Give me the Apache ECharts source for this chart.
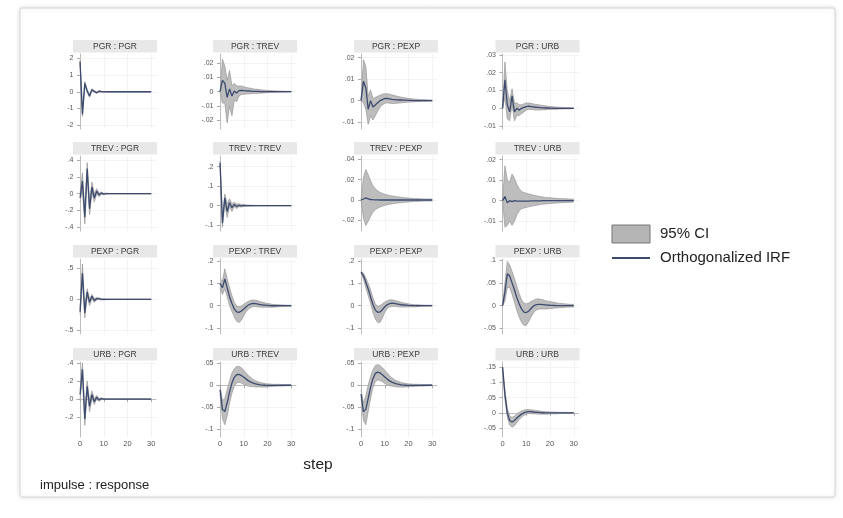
<!DOCTYPE html>
<html><head><meta charset="utf-8">
<script src="https://cdn.jsdelivr.net/npm/echarts@6/dist/echarts.min.js"></script>
<style>html,body{margin:0;padding:0;background:#fff}#c{width:843px;height:518px}</style>
</head><body><div id="c"></div>
<script>
// ---------------- DATA ----------------
const steps = [0,1,2,3,4,5,6,7,8,9,10,11,12,13,14,15,16,17,18,19,20,21,22,23,24,25,26,27,28,29,30];
const vars = ['PGR','TREV','PEXP','URB'];
const xTicks = [0,10,20,30];
const legendNames = ['95% CI', 'Orthogonalized IRF'];

// impulse PGR
const irf_PGR_PGR = [1.8,-1.35,0.5,0.05,-0.25,0.12,0.02,-0.06,0.03,0.01, -0.01,0.01,0,0,0,0,0,0,0,0, 0,0,0,0,0,0,0,0,0,0, 0];
const hi_PGR_PGR  = [1.9,-1.22,0.62,0.13,-0.17,0.18,0.07,-0.02,0.06,0.03, 0.01,0.02,0.01,0.008,0.006,0.005,0.004,0.003,0.003,0.002, 0.002,0.002,0.001,0.001,0.001,0.001,0.001,0.001,0.001,0.001, 0.001];
const lo_PGR_PGR  = [1.7,-1.48,0.38,-0.03,-0.33,0.06,-0.03,-0.1,0.0,-0.01, -0.03,0.0,-0.01,-0.008,-0.006,-0.005,-0.004,-0.003,-0.003,-0.002, -0.002,-0.002,-0.001,-0.001,-0.001,-0.001,-0.001,-0.001,-0.001,-0.001, -0.001];

const irf_PGR_TREV = [0,0.008,0.006,-0.004,0.002,-0.003,0.0005,-0.001,0.0008,0.001, 0.0008,0.0006,0.0005,0.0004,0.0003,0.0002,0.0002,0.0001,0.0001,0.0001, 0,0,0,0,0,0,0,0,0,0, 0];
const hi_PGR_TREV  = [0,0.023,0.018,0.008,0.015,0.004,0.006,0.004,0.004,0.004, 0.0035,0.003,0.0027,0.0024,0.002,0.0018,0.0016,0.0014,0.0012,0.001, 0.0009,0.0008,0.0007,0.0006,0.0005,0.0005,0.0004,0.0004,0.0003,0.0003, 0.0003];
const lo_PGR_TREV  = [0,-0.008,-0.008,-0.022,-0.01,-0.017,-0.006,-0.007,-0.003,-0.002, -0.0018,-0.0016,-0.0015,-0.0014,-0.0013,-0.0012,-0.0011,-0.001,-0.0009,-0.0008, -0.0007,-0.0006,-0.0005,-0.0005,-0.0004,-0.0004,-0.0003,-0.0003,-0.0003,-0.0002, -0.0002];

const irf_PGR_PEXP = [0,0.009,0.006,-0.004,0,-0.003,-0.002,-0.001,0,0.0005, 0.001,0.001,0.0008,0.0006,0.0005,0.0004,0.0003,0.0003,0.0002,0.0002, 0.0001,0.0001,0,0,0,0,0,0,0,0, 0];
const hi_PGR_PEXP  = [0,0.019,0.016,0.002,0.005,0.001,0.0015,0.002,0.0025,0.003, 0.0032,0.0032,0.003,0.0027,0.0024,0.0021,0.0018,0.0016,0.0014,0.0012, 0.001,0.0009,0.0008,0.0007,0.0006,0.0005,0.0005,0.0004,0.0004,0.0003, 0.0003];
const lo_PGR_PEXP  = [0,-0.001,-0.004,-0.011,-0.007,-0.009,-0.007,-0.005,-0.003,-0.002, -0.0012,-0.001,-0.0012,-0.0013,-0.0013,-0.0012,-0.0011,-0.001,-0.0009,-0.0008, -0.0007,-0.0006,-0.0005,-0.0005,-0.0004,-0.0004,-0.0003,-0.0003,-0.0003,-0.0002, -0.0002];

const irf_PGR_URB = [0,0.016,0.002,-0.002,0.007,-0.002,0,-0.001,0,0.0005, 0.001,0.0012,0.001,0.0008,0.0006,0.0005,0.0004,0.0003,0.0002,0.0002, 0.0001,0.0001,0,0,0,0,0,0,0,0, 0];
const hi_PGR_URB  = [0,0.026,0.01,0.004,0.011,0.003,0.003,0.002,0.002,0.0025, 0.003,0.003,0.0028,0.0025,0.0022,0.002,0.0018,0.0016,0.0014,0.0012, 0.001,0.0009,0.0008,0.0007,0.0006,0.0005,0.0005,0.0004,0.0004,0.0003, 0.0003];
const lo_PGR_URB  = [0,0.006,-0.006,-0.007,0.002,-0.007,-0.004,-0.004,-0.003,-0.002, -0.001,-0.0006,-0.0006,-0.0008,-0.0009,-0.0009,-0.0009,-0.0008,-0.0008,-0.0007, -0.0006,-0.0006,-0.0005,-0.0005,-0.0004,-0.0004,-0.0003,-0.0003,-0.0003,-0.0002, -0.0002];

// impulse TREV
const irf_TREV_PGR = [-0.05,0.15,-0.28,0.3,-0.18,0.08,-0.05,0.03,-0.015,0.008, -0.004,0.002,0,0,0,0,0,0,0,0, 0,0,0,0,0,0,0,0,0,0, 0];
const hi_TREV_PGR  = [0,0.25,-0.2,0.37,-0.1,0.14,0,0.06,0.005,0.02, 0.004,0.007,0.003,0.002,0.0015,0.001,0.001,0.001,0.001,0.001, 0.001,0.001,0.001,0.001,0.001,0.001,0.001,0.001,0.001,0.001, 0.001];
const lo_TREV_PGR  = [-0.1,0.05,-0.36,0.22,-0.25,0.02,-0.1,0,-0.035,-0.005, -0.012,-0.003,-0.003,-0.002,-0.0015,-0.001,-0.001,-0.001,-0.001,-0.001, -0.001,-0.001,-0.001,-0.001,-0.001,-0.001,-0.001,-0.001,-0.001,-0.001, -0.001];

const irf_TREV_TREV = [0.22,-0.09,0.04,-0.03,0.015,-0.01,0.006,-0.004,0.002,-0.001, 0.001,0,0,0,0,0,0,0,0,0, 0,0,0,0,0,0,0,0,0,0, 0];
const hi_TREV_TREV  = [0.23,-0.06,0.06,0.01,0.035,0.01,0.018,0.008,0.01,0.005, 0.006,0.003,0.003,0.002,0.002,0.0015,0.001,0.001,0.001,0.001, 0.001,0.001,0.001,0.001,0.001,0.001,0.001,0.001,0.001,0.001, 0.001];
const lo_TREV_TREV  = [0.21,-0.11,0.01,-0.06,-0.005,-0.03,-0.005,-0.015,-0.005,-0.007, -0.004,-0.003,-0.003,-0.002,-0.002,-0.0015,-0.001,-0.001,-0.001,-0.001, -0.001,-0.001,-0.001,-0.001,-0.001,-0.001,-0.001,-0.001,-0.001,-0.001, -0.001];

const irf_TREV_PEXP = [0,0.001,0.002,0.001,0.0005,0.0003,0.0002,0.0001,0,0, 0,0,0,0,0,0,0,0,0,0, 0,0,0,0,0,0,0,0,0,0, 0];
const hi_TREV_PEXP  = [0,0.022,0.03,0.025,0.019,0.014,0.011,0.009,0.0075,0.0065, 0.0057,0.005,0.0045,0.004,0.0036,0.0032,0.0029,0.0026,0.0023,0.0021, 0.0019,0.0017,0.0015,0.0014,0.0013,0.0012,0.0011,0.001,0.001,0.0009, 0.0009];
const lo_TREV_PEXP  = [0,-0.018,-0.025,-0.021,-0.016,-0.012,-0.0095,-0.008,-0.0068,-0.006, -0.0053,-0.0047,-0.0042,-0.0038,-0.0034,-0.0031,-0.0028,-0.0025,-0.0023,-0.0021, -0.0019,-0.0017,-0.0015,-0.0014,-0.0013,-0.0012,-0.0011,-0.001,-0.001,-0.0009, -0.0009];

const irf_TREV_URB = [0,0.002,-0.001,0,-0.0005,0,-0.0002,-0.0002,-0.0002,-0.0002, -0.0002,-0.0002,-0.0001,-0.0001,-0.0001,-0.0001,-0.0001,0,0,0, 0,0,0,0,0,0,0,0,0,0, 0];
const hi_TREV_URB  = [0,0.017,0.01,0.009,0.013,0.011,0.008,0.006,0.0045,0.004, 0.0036,0.0033,0.003,0.0027,0.0024,0.0022,0.002,0.0018,0.0016,0.0015, 0.0014,0.0013,0.0012,0.0011,0.001,0.001,0.0009,0.0009,0.0008,0.0008, 0.0007];
const lo_TREV_URB  = [0,-0.013,-0.012,-0.01,-0.012,-0.01,-0.007,-0.005,-0.004,-0.0036, -0.0033,-0.003,-0.0027,-0.0025,-0.0023,-0.0021,-0.0019,-0.0017,-0.0016,-0.0015, -0.0014,-0.0013,-0.0012,-0.0011,-0.001,-0.001,-0.0009,-0.0009,-0.0008,-0.0008, -0.0007];

// impulse PEXP
const irf_PEXP_PGR = [-0.2,0.42,-0.22,0.12,-0.05,0.05,-0.02,0.01,0.01,0, 0,0,0,0,0,0,0,0,0,0, 0,0,0,0,0,0,0,0,0,0, 0];
const hi_PEXP_PGR  = [-0.15,0.57,-0.12,0.17,0,0.08,0.01,0.03,0.02,0.01, 0.008,0.006,0.005,0.004,0.003,0.0025,0.002,0.002,0.002,0.002, 0.002,0.002,0.002,0.002,0.002,0.002,0.002,0.002,0.002,0.002, 0.002];
const lo_PEXP_PGR  = [-0.25,0.3,-0.3,0.06,-0.1,0.01,-0.05,-0.01,-0.005,-0.01, -0.008,-0.006,-0.005,-0.004,-0.003,-0.0025,-0.002,-0.002,-0.002,-0.002, -0.002,-0.002,-0.002,-0.002,-0.002,-0.002,-0.002,-0.002,-0.002,-0.002, -0.002];

const irf_PEXP_TREV = [0.1,0.08,0.12,0.08,0.04,0.01,-0.015,-0.028,-0.03,-0.024, -0.015,-0.005,0.003,0.008,0.01,0.009,0.007,0.005,0.003,0.002, 0.001,0,-0.0005,-0.0005,-0.0005,-0.0003,-0.0002,-0.0001,0,0, 0];
const hi_PEXP_TREV  = [0.12,0.11,0.165,0.12,0.08,0.045,0.015,-0.002,-0.005,-0.002, 0.006,0.014,0.02,0.024,0.025,0.024,0.021,0.018,0.015,0.012, 0.01,0.008,0.006,0.005,0.004,0.004,0.003,0.003,0.002,0.002, 0.002];
const lo_PEXP_TREV  = [0.08,0.05,0.075,0.04,0,-0.025,-0.05,-0.07,-0.075,-0.065, -0.045,-0.027,-0.015,-0.008,-0.004,-0.004,-0.006,-0.006,-0.007,-0.007, -0.007,-0.007,-0.007,-0.006,-0.005,-0.005,-0.004,-0.004,-0.003,-0.003, -0.003];

const irf_PEXP_PEXP = [0.15,0.135,0.105,0.075,0.04,0.005,-0.02,-0.03,-0.028,-0.018, -0.005,0.004,0.009,0.011,0.01,0.008,0.006,0.004,0.003,0.002, 0.001,0.0005,0,-0.0003,-0.0004,-0.0003,-0.0002,-0.0001,0,0, 0];
const hi_PEXP_PEXP  = [0.155,0.145,0.125,0.1,0.07,0.035,0.008,-0.003,0,0.008, 0.016,0.022,0.026,0.026,0.024,0.021,0.018,0.015,0.012,0.01, 0.008,0.006,0.005,0.004,0.004,0.003,0.003,0.002,0.002,0.002, 0.002];
const lo_PEXP_PEXP  = [0.145,0.12,0.08,0.045,0.01,-0.03,-0.06,-0.075,-0.075,-0.055, -0.03,-0.013,-0.006,-0.003,-0.003,-0.004,-0.005,-0.006,-0.006,-0.006, -0.006,-0.005,-0.005,-0.005,-0.004,-0.004,-0.003,-0.003,-0.003,-0.002, -0.002];

const irf_PEXP_URB = [0,0.03,0.07,0.065,0.05,0.035,0.018,0.004,-0.007,-0.014, -0.015,-0.012,-0.006,-0.001,0.002,0.003,0.003,0.0025,0.002,0.0015, 0.001,0.0008,0.0005,0.0003,0.0002,0.0001,0,0,0,0, 0];
const hi_PEXP_URB  = [0,0.05,0.097,0.09,0.075,0.06,0.043,0.027,0.013,0.006, 0.004,0.006,0.009,0.012,0.014,0.015,0.014,0.013,0.011,0.01, 0.009,0.008,0.007,0.006,0.005,0.005,0.004,0.004,0.003,0.003, 0.003];
const lo_PEXP_URB  = [0,0.01,0.04,0.04,0.025,0.008,-0.01,-0.025,-0.036,-0.043, -0.043,-0.035,-0.025,-0.016,-0.01,-0.008,-0.007,-0.007,-0.007,-0.007, -0.006,-0.006,-0.005,-0.005,-0.004,-0.004,-0.004,-0.003,-0.003,-0.003, -0.003];

// impulse URB
const irf_URB_PGR = [0.05,0.33,-0.22,0.14,-0.08,0.05,-0.03,0.02,-0.01,0.005, 0,0,0,0,0,0,0,0,0,0, 0,0,0,0,0,0,0,0,0,0, 0];
const hi_URB_PGR  = [0.1,0.4,-0.15,0.2,-0.02,0.09,0,0.04,0.005,0.015, 0.006,0.005,0.004,0.003,0.002,0.002,0.002,0.002,0.002,0.002, 0.002,0.002,0.002,0.002,0.002,0.002,0.002,0.002,0.002,0.002, 0.002];
const lo_URB_PGR  = [0,0.26,-0.29,0.08,-0.14,0.01,-0.06,0,-0.025,-0.005, -0.006,-0.005,-0.004,-0.003,-0.002,-0.002,-0.002,-0.002,-0.002,-0.002, -0.002,-0.002,-0.002,-0.002,-0.002,-0.002,-0.002,-0.002,-0.002,-0.002, -0.002];

const irf_URB_TREV = [-0.01,-0.055,-0.06,-0.04,-0.015,0.005,0.018,0.024,0.025,0.022, 0.018,0.014,0.01,0.007,0.005,0.003,0.002,0.001,0.0005,0, -0.0003,-0.0004,-0.0004,-0.0003,-0.0002,-0.0001,0,0,0,0, 0];
const hi_URB_TREV  = [0,-0.035,-0.03,-0.01,0.01,0.028,0.038,0.043,0.043,0.04, 0.034,0.028,0.022,0.017,0.013,0.01,0.008,0.006,0.005,0.004, 0.003,0.003,0.002,0.002,0.002,0.002,0.001,0.001,0.001,0.001, 0.001];
const lo_URB_TREV  = [-0.02,-0.075,-0.09,-0.07,-0.04,-0.018,-0.002,0.005,0.007,0.005, 0.002,0,-0.002,-0.003,-0.003,-0.004,-0.004,-0.004,-0.004,-0.004, -0.0035,-0.003,-0.003,-0.0025,-0.002,-0.002,-0.002,-0.0015,-0.0015,-0.001, -0.001];

const irf_URB_PEXP = [-0.02,-0.06,-0.055,-0.03,-0.005,0.015,0.027,0.03,0.028,0.024, 0.019,0.014,0.01,0.007,0.005,0.003,0.002,0.001,0.0005,0, -0.0003,-0.0004,-0.0004,-0.0003,-0.0002,-0.0001,0,0,0,0, 0];
const hi_URB_PEXP  = [-0.01,-0.04,-0.025,0,0.02,0.035,0.045,0.047,0.045,0.04, 0.034,0.028,0.022,0.017,0.013,0.01,0.008,0.006,0.005,0.004, 0.003,0.003,0.002,0.002,0.002,0.002,0.001,0.001,0.001,0.001, 0.001];
const lo_URB_PEXP  = [-0.03,-0.08,-0.09,-0.06,-0.03,-0.005,0.008,0.012,0.011,0.008, 0.004,0.001,-0.001,-0.002,-0.003,-0.004,-0.004,-0.004,-0.004,-0.004, -0.0035,-0.003,-0.003,-0.0025,-0.002,-0.002,-0.002,-0.0015,-0.0015,-0.001, -0.001];

const irf_URB_URB = [0.15,0.06,0,-0.025,-0.03,-0.025,-0.017,-0.01,-0.004,0, 0.003,0.004,0.004,0.003,0.002,0.0015,0.001,0.0005,0,0, 0,0,0,0,0,0,0,0,0,0, 0];
const hi_URB_URB  = [0.155,0.075,0.015,-0.01,-0.015,-0.01,-0.004,0.002,0.006,0.009, 0.011,0.011,0.01,0.009,0.008,0.007,0.006,0.005,0.004,0.004, 0.003,0.003,0.003,0.002,0.002,0.002,0.002,0.002,0.001,0.001, 0.001];
const lo_URB_URB  = [0.145,0.045,-0.015,-0.04,-0.047,-0.042,-0.032,-0.022,-0.014,-0.008, -0.004,-0.002,-0.002,-0.003,-0.003,-0.004,-0.004,-0.004,-0.004,-0.004, -0.003,-0.003,-0.003,-0.003,-0.002,-0.002,-0.002,-0.002,-0.002,-0.001, -0.001];

// y tick labels per panel (row = impulse, col = response)
const yTicks_PGR  = [[-2,-1,0,1,2], [-0.02,-0.01,0,0.01,0.02], [-0.01,0,0.01,0.02], [-0.01,0,0.01,0.02,0.03]];
const yTicks_TREV = [[-0.4,-0.2,0,0.2,0.4], [-0.1,0,0.1,0.2], [-0.02,0,0.02,0.04], [-0.01,0,0.01,0.02]];
const yTicks_PEXP = [[-0.5,0,0.5], [-0.1,0,0.1,0.2], [-0.1,0,0.1,0.2], [-0.05,0,0.05,0.1]];
const yTicks_URB  = [[-0.2,0,0.2,0.4], [-0.1,-0.05,0,0.05], [-0.1,-0.05,0,0.05], [-0.05,0,0.05,0.1,0.15]];

// ---------------- TABLES BUILT FROM DATA ----------------
const panelData = [
  [[irf_PGR_PGR,lo_PGR_PGR,hi_PGR_PGR],[irf_PGR_TREV,lo_PGR_TREV,hi_PGR_TREV],[irf_PGR_PEXP,lo_PGR_PEXP,hi_PGR_PEXP],[irf_PGR_URB,lo_PGR_URB,hi_PGR_URB]],
  [[irf_TREV_PGR,lo_TREV_PGR,hi_TREV_PGR],[irf_TREV_TREV,lo_TREV_TREV,hi_TREV_TREV],[irf_TREV_PEXP,lo_TREV_PEXP,hi_TREV_PEXP],[irf_TREV_URB,lo_TREV_URB,hi_TREV_URB]],
  [[irf_PEXP_PGR,lo_PEXP_PGR,hi_PEXP_PGR],[irf_PEXP_TREV,lo_PEXP_TREV,hi_PEXP_TREV],[irf_PEXP_PEXP,lo_PEXP_PEXP,hi_PEXP_PEXP],[irf_PEXP_URB,lo_PEXP_URB,hi_PEXP_URB]],
  [[irf_URB_PGR,lo_URB_PGR,hi_URB_PGR],[irf_URB_TREV,lo_URB_TREV,hi_URB_TREV],[irf_URB_PEXP,lo_URB_PEXP,hi_URB_PEXP],[irf_URB_URB,lo_URB_URB,hi_URB_URB]]
];
const yTicks = [yTicks_PGR, yTicks_TREV, yTicks_PEXP, yTicks_URB];

// ---------------- LAYOUT ----------------
const colLeft = [76.5, 216.5, 357.5, 499];
const rowTop = [54, 156, 259, 362];
const plotW = 79.5, plotH = 75;
const yRange = [
  [[-2.23,2.26],[-0.0263,0.0266],[-0.0132,0.0217],[-0.0116,0.0305]],
  [[-0.444,0.449],[-0.13,0.255],[-0.0305,0.0433],[-0.0148,0.0218]],
  [[-0.56,0.65],[-0.127,0.209],[-0.127,0.209],[-0.062,0.1024]],
  [[-0.42,0.41],[-0.118,0.053],[-0.118,0.053],[-0.079,0.167]]
];
const FONT = 'Liberation Sans, Arial, Helvetica, sans-serif';
const CI_FILL = '#bdbdbd', CI_EDGE = '#979797', IRF_COL = '#3b4a6e';

function fmt(v){
  if (Math.abs(v) < 1e-12) return '0';
  const s = parseFloat(Number(v).toPrecision(6)).toString();
  return s.replace(/^(-?)0\./, '$1.');
}

function renderBand(params, api){
  if (params.dataIndexInside !== 0) return null;
  const n = params.dataInsideLength;
  const up = [], dn = [];
  for (let i = 0; i < n; i++) {
    const x = api.value(0, i);
    up.push(api.coord([x, api.value(2, i)]));
    dn.push(api.coord([x, api.value(1, i)]));
  }
  return {type:'group', children:[
    {type:'polygon', shape:{points: up.concat(dn.slice().reverse())}, style:{fill: CI_FILL, stroke:null}},
    {type:'polyline', shape:{points: up}, style:{stroke: CI_EDGE, lineWidth:0.7, fill:null}},
    {type:'polyline', shape:{points: dn}, style:{stroke: CI_EDGE, lineWidth:0.7, fill:null}}
  ]};
}

const grid = [], xAxis = [], yAxis = [], series = [], graphic = [];
graphic.push({type:'rect', z:-10, shape:{x:20,y:8,width:815,height:489,r:2},
  style:{fill:'#fff', stroke:'#d6d6d6', lineWidth:1, shadowBlur:5, shadowColor:'rgba(0,0,0,0.12)'}});

for (let r = 0; r < 4; r++) {
  for (let c = 0; c < 4; c++) {
    const k = r*4 + c;
    const [irf, lo, hi] = panelData[r][c];
    const ticks = yTicks[r][c];
    grid.push({left: colLeft[c], top: rowTop[r], width: plotW, height: plotH});
    xAxis.push({gridIndex:k, type:'value', min:-1.5, max:32,
      axisLine:{show: r===3, lineStyle:{color:'#bdbdbd', width:1}},
      axisTick:{show: r===3, customValues: xTicks, length:3, lineStyle:{color:'#aaa'}},
      axisLabel:{show: r===3, customValues: xTicks, fontSize:7.5, color:'#555', margin:3, fontFamily:FONT},
      splitLine:{show:false}});
    yAxis.push({gridIndex:k, type:'value', min:yRange[r][c][0], max:yRange[r][c][1],
      axisLine:{show:true, lineStyle:{color:'#bdbdbd', width:1}},
      axisTick:{show:true, customValues: ticks, length:3, lineStyle:{color:'#aaa'}},
      axisLabel:{customValues: ticks, formatter: fmt, fontSize:7, color:'#555', margin:3, fontFamily:FONT},
      splitLine:{show:false}});
    const gridLines = ticks.map(v => ({yAxis: v})).concat(xTicks.map(v => ({xAxis: v})));
    // faint grid lines (drawn underneath)
    series.push({type:'line', name:'grid'+k, xAxisIndex:k, yAxisIndex:k, data:[], z:0, silent:true,
      markLine:{silent:true, z:0, symbol:'none', label:{show:false}, animation:false,
        lineStyle:{color:'#eeeeee', width:0.7, type:'solid'}, data: gridLines}});
    // confidence band
    series.push({type:'custom', name:legendNames[0], xAxisIndex:k, yAxisIndex:k,
      data: steps.map((s,i) => [s, lo[i], hi[i]]),
      encode:{x:0, y:[1,2]}, renderItem: renderBand, z:2, silent:true});
    // IRF line
    series.push({type:'line', name:legendNames[1], xAxisIndex:k, yAxisIndex:k,
      data: steps.map((s,i) => [s, irf[i]]), symbol:'none',
      lineStyle:{color:IRF_COL, width:1.3}, itemStyle:{color:IRF_COL}, z:3, silent:true});
    // strip title
    const sx = colLeft[c] - 3.5, sy = rowTop[r] - 14, sw = 84, sh = 12.5;
    graphic.push({type:'rect', z:5, shape:{x:sx, y:sy, width:sw, height:sh}, style:{fill:'#e8e8e8'}});
    graphic.push({type:'text', z:6, x: sx + sw/2, y: sy + sh/2 + 0.5,
      style:{text: vars[r] + ' : ' + vars[c], fontSize:8.5, fill:'#3a3a3a', fontFamily:FONT, align:'center', verticalAlign:'middle'}});
  }
}
graphic.push({type:'text', x:318, y:465, style:{text:'step', fontSize:15.5, fill:'#222', fontFamily:FONT, align:'center', verticalAlign:'middle'}});
graphic.push({type:'text', x:40, y:485, style:{text:'impulse : response', fontSize:13, fill:'#222', fontFamily:FONT, align:'left', verticalAlign:'middle'}});
// legend
graphic.push({type:'rect', shape:{x:612, y:225, width:38, height:18}, style:{fill:'#b5b5b5', stroke:'#777', lineWidth:1}});
graphic.push({type:'text', x:660, y:234, style:{text:legendNames[0], fontSize:15, fill:'#222', fontFamily:FONT, align:'left', verticalAlign:'middle'}});
graphic.push({type:'line', shape:{x1:612, y1:258, x2:650, y2:258}, style:{stroke:IRF_COL, lineWidth:2}});
graphic.push({type:'text', x:660, y:258, style:{text:legendNames[1], fontSize:15, fill:'#222', fontFamily:FONT, align:'left', verticalAlign:'middle'}});

const chart = echarts.init(document.getElementById('c'), null, {renderer:'canvas'});
chart.setOption({
  animation:false,
  backgroundColor:'#ffffff',
  grid, xAxis, yAxis, series, graphic
});
</script>
</body></html>
